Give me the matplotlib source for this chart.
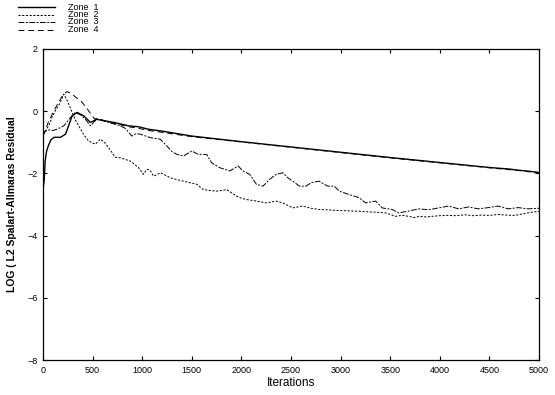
import matplotlib
matplotlib.use("Agg")
import matplotlib.pyplot as plt
from matplotlib.lines import Line2D

plt.rcParams["font.family"] = ["Liberation Sans", "DejaVu Sans"]

# --- data (iteration, log10 residual) ---
it1 = [0, 12, 22, 35, 55, 80, 110, 175, 227, 260, 294, 344, 411, 478, 541, 628, 728,
       862, 962, 1062, 1200, 1500, 2000, 2500, 3000, 3500, 4000, 4500, 4700, 4800, 4900, 5000]
zone1 = [-2.55, -2.2, -1.6, -1.3, -1.1, -0.92, -0.84, -0.84, -0.74, -0.45, -0.15, -0.04,
         -0.15, -0.36, -0.26, -0.31, -0.37, -0.47, -0.5, -0.58, -0.64, -0.8, -0.98, -1.15,
         -1.32, -1.49, -1.65, -1.81, -1.86, -1.9, -1.93, -1.97]

it2 = [0, 27, 60, 90, 130, 170, 210, 250, 294, 330, 360, 410, 460, 527, 578, 620, 661,
       700, 728, 780, 828, 878, 920, 962, 1012, 1049, 1080, 1115, 1182, 1230, 1283, 1350,
       1416, 1480, 1550, 1616, 1680, 1750, 1800, 1850, 1900, 1950, 2000, 2051, 2151, 2251,
       2351, 2418, 2518, 2618, 2700, 2785, 2870, 2952, 3050, 3119, 3200, 3286, 3370, 3453,
       3500, 3553, 3620, 3687, 3740, 3800, 3860, 3921, 4000, 4088, 4170, 4255, 4330, 4420,
       4500, 4589, 4670, 4756, 4840, 4923, 5000]
zone2 = [-0.75, -0.63, -0.45, -0.2, 0.05, 0.25, 0.55, 0.3, -0.04, -0.3, -0.47, -0.75,
         -0.96, -1.06, -0.9, -1.0, -1.17, -1.35, -1.48, -1.5, -1.55, -1.6, -1.7, -1.81,
         -2.03, -1.87, -1.9, -2.09, -1.98, -2.05, -2.14, -2.2, -2.25, -2.3, -2.35, -2.52,
         -2.55, -2.57, -2.55, -2.52, -2.62, -2.73, -2.8, -2.84, -2.89, -2.95, -2.89, -2.95,
         -3.11, -3.05, -3.12, -3.16, -3.17, -3.19, -3.2, -3.21, -3.22, -3.24, -3.25, -3.27,
         -3.32, -3.38, -3.35, -3.38, -3.42, -3.38, -3.4, -3.38, -3.36, -3.35, -3.36, -3.33,
         -3.36, -3.34, -3.35, -3.32, -3.34, -3.35, -3.3, -3.25, -3.22]

it3 = [0, 27, 60, 100, 140, 210, 277, 327, 380, 428, 478, 541, 600, 680, 760, 830, 895,
       940, 982, 1082, 1182, 1249, 1300, 1350, 1416, 1500, 1566, 1650, 1700, 1784, 1884,
       1967, 2015, 2084, 2151, 2218, 2285, 2351, 2418, 2468, 2518, 2585, 2652, 2702, 2785,
       2869, 2936, 2986, 3086, 3186, 3253, 3354, 3420, 3520, 3587, 3687, 3787, 3888, 3988,
       4088, 4190, 4289, 4389, 4489, 4589, 4690, 4790, 4890, 5000]
zone3 = [-0.75, -0.63, -0.6, -0.62, -0.58, -0.47, -0.2, -0.04, -0.12, -0.26, -0.47, -0.26,
         -0.3, -0.38, -0.45, -0.55, -0.8, -0.72, -0.74, -0.85, -0.9, -1.12, -1.3, -1.39,
         -1.44, -1.28, -1.39, -1.39, -1.66, -1.82, -1.92, -1.76, -1.92, -2.03, -2.35, -2.41,
         -2.19, -2.03, -1.98, -2.14, -2.25, -2.41, -2.41, -2.3, -2.25, -2.41, -2.41, -2.57,
         -2.68, -2.78, -2.95, -2.89, -3.11, -3.16, -3.27, -3.21, -3.14, -3.17, -3.11, -3.05,
         -3.14, -3.08, -3.14, -3.1, -3.05, -3.14, -3.1, -3.14, -3.12]

it4 = [0, 20, 50, 100, 150, 190, 240, 280, 330, 390, 440, 490, 520, 560, 628, 728, 862,
       962, 1062, 1200, 1500, 2000, 2500, 3000, 3500, 4000, 4500, 4700, 4800, 4900, 5000]
zone4 = [-0.8, -0.65, -0.38, -0.05, 0.25, 0.47, 0.63, 0.58, 0.45, 0.3, 0.1, -0.12, -0.25,
         -0.22, -0.33, -0.4, -0.5, -0.55, -0.62, -0.68, -0.82, -0.99, -1.16, -1.33, -1.5,
         -1.66, -1.82, -1.88, -1.91, -1.95, -1.99]

labels = ["Zone  1", "Zone  2", "Zone  3", "Zone  4"]
xticks = list(range(0, 5001, 500))
yticks = [2, 0, -2, -4, -6, -8]

W, H = 555, 395
styles = [dict(ls="-", lw=1.0),
          dict(ls=(0, (2.2, 1.6)), lw=0.7),
          dict(ls=(0, (6, 1.5, 2, 1.5)), lw=0.7),
          dict(ls=(0, (6, 4)), lw=0.7)]

fig = plt.figure(figsize=(W / 100, H / 100), dpi=100)
ax = fig.add_axes([43 / W, 1 - 360 / H, (539 - 43) / W, (360 - 49) / H])

for xs, ys, st in zip([it1, it2, it3, it4], [zone1, zone2, zone3, zone4], styles):
    ax.plot(xs, ys, color="black", **st)

ax.set_xlim(0, 5000)
ax.set_ylim(-8, 2)
ax.set_xticks(xticks)
ax.set_yticks(yticks)
ax.tick_params(direction="in", length=3, width=0.8, top=True, right=True,
               labelsize=6.5, pad=4)
for sp in ax.spines.values():
    sp.set_linewidth(0.9)
ax.set_xlabel("Iterations", fontsize=8.5, labelpad=2)
ax.set_ylabel("LOG ( L2 Spalart-Allmaras Residual", fontsize=7.5, fontweight="bold",
              labelpad=7)

# legend sitting above the plot, top-left of the figure
for i, (lab, st) in enumerate(zip(labels, styles)):
    y = 1 - (7 + 7.5 * i) / H
    fig.add_artist(Line2D([18 / W, 55 / W], [y, y], transform=fig.transFigure,
                          color="black", **st))
    fig.text(68 / W, y, lab, fontsize=6.5, va="center", ha="left")

fig.savefig("out.png", dpi=100)
